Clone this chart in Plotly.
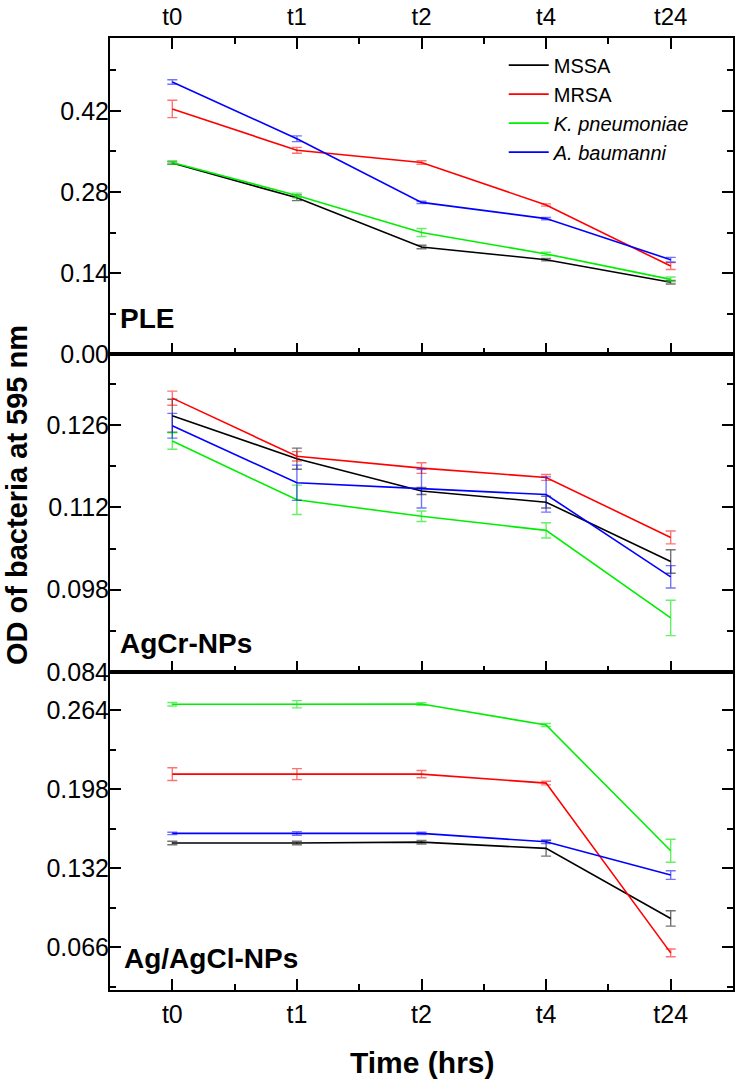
import plotly.graph_objects as go

categories = ["t0", "t1", "t2", "t4", "t24"]
series_names = ["MSSA", "MRSA", "<i>K. pneumoniae</i>", "<i>A. baumanni</i>"]
colors = ["#000000", "#ff0000", "#00ee00", "#0000ff"]
err_colors = ["rgba(0,0,0,0.55)", "rgba(255,0,0,0.55)", "rgba(0,230,0,0.6)", "rgba(0,0,255,0.55)"]

# PLE panel
ple_mssa = [0.330, 0.270, 0.185, 0.163, 0.124]
ple_mrsa = [0.4235, 0.352, 0.331, 0.2575, 0.152]
ple_kp = [0.331, 0.274, 0.210, 0.173, 0.129]
ple_ab = [0.470, 0.372, 0.262, 0.234, 0.163]
ple_mssa_err = [0.002, 0.005, 0.003, 0.002, 0.003]
ple_mrsa_err = [0.015, 0.005, 0.003, 0.002, 0.006]
ple_kp_err = [0.003, 0.004, 0.007, 0.003, 0.004]
ple_ab_err = [0.004, 0.005, 0.002, 0.002, 0.004]

# AgCr-NPs panel
agcr_mssa = [0.1276, 0.1203, 0.1148, 0.1129, 0.1028]
agcr_mrsa = [0.1306, 0.1207, 0.1187, 0.1171, 0.1069]
agcr_kp = [0.1233, 0.1133, 0.1105, 0.1081, 0.0932]
agcr_ab = [0.1259, 0.1162, 0.1152, 0.1142, 0.1002]
agcr_mssa_err = [0.0028, 0.0018, 0.0006, 0.0010, 0.0020]
agcr_mrsa_err = [0.0012, 0.0008, 0.0009, 0.0005, 0.0011]
agcr_kp_err = [0.0014, 0.0025, 0.0009, 0.0013, 0.0030]
agcr_ab_err = [0.0021, 0.0030, 0.0033, 0.0030, 0.0019]

# Ag/AgCl-NPs panel
agcl_mssa = [0.1530, 0.1530, 0.1537, 0.1485, 0.0900]
agcl_mrsa = [0.2105, 0.2105, 0.2105, 0.2030, 0.0613]
agcl_kp = [0.2688, 0.2688, 0.2690, 0.2515, 0.1465]
agcl_ab = [0.1610, 0.1610, 0.1610, 0.1540, 0.1262]
agcl_mssa_err = [0.0015, 0.0015, 0.0015, 0.0065, 0.0064]
agcl_mrsa_err = [0.0053, 0.0046, 0.0030, 0.0015, 0.0032]
agcl_kp_err = [0.0015, 0.0030, 0.0010, 0.0013, 0.0096]
agcl_ab_err = [0.0010, 0.0015, 0.0010, 0.0015, 0.0036]

panels = [
    ("x", "y", [ple_mssa, ple_mrsa, ple_kp, ple_ab],
     [ple_mssa_err, ple_mrsa_err, ple_kp_err, ple_ab_err], True),
    ("x2", "y2", [agcr_mssa, agcr_mrsa, agcr_kp, agcr_ab],
     [agcr_mssa_err, agcr_mrsa_err, agcr_kp_err, agcr_ab_err], False),
    ("x3", "y3", [agcl_mssa, agcl_mrsa, agcl_kp, agcl_ab],
     [agcl_mssa_err, agcl_mrsa_err, agcl_kp_err, agcl_ab_err], False),
]

xpos = list(range(len(categories)))
FONT = "Liberation Sans, Arial, sans-serif"

fig = go.Figure()
for xa, ya, vals, errs, show in panels:
    for i in range(4):
        fig.add_trace(go.Scatter(
            x=xpos, y=vals[i], mode="lines", name=series_names[i],
            line=dict(color=colors[i], width=1.6),
            error_y=dict(type="data", array=errs[i], visible=True,
                         color=err_colors[i], thickness=1.4, width=5),
            xaxis=xa, yaxis=ya, showlegend=show,
        ))

common_x = dict(range=[-0.5, 4.5], tickvals=xpos, ticktext=categories,
                ticks="inside", ticklen=11, tickwidth=2, tickcolor="black",
                showline=True, linewidth=2, linecolor="black",
                showgrid=False, zeroline=False, automargin=False,
                minor=dict(dtick=0.5, tick0=0, ticks="inside", ticklen=6,
                           tickwidth=2, tickcolor="black", showgrid=False),
                tickfont=dict(family=FONT, size=25, color="black"))
common_y = dict(ticks="inside", ticklen=11, tickwidth=2, tickcolor="black",
                showline=True, linewidth=2, linecolor="black", automargin=False,
                mirror="allticks", showgrid=False, zeroline=False,
                tickfont=dict(family=FONT, size=25, color="black"),
                ticklabelstandoff=-6)

fig.update_layout(
    width=735, height=1081,
    margin=dict(l=110, r=2, t=38, b=91, autoexpand=False),
    plot_bgcolor="white", paper_bgcolor="white",
    font=dict(family=FONT, color="black"),
    xaxis=dict(common_x, anchor="y", side="top", mirror="allticks", showticklabels=True,
               ticklabelstandoff=1, tickfont=dict(family=FONT, size=24, color="black")),
    xaxis2=dict(common_x, anchor="y2", side="bottom", mirror=True, showticklabels=False),
    xaxis3=dict(common_x, anchor="y3", side="bottom", mirror=True, showticklabels=True,
                ticklabelstandoff=1),
    yaxis=dict(common_y, anchor="x", domain=[0.668, 1.0], range=[0, 0.546],
               tick0=0, dtick=0.14, tickformat=".2f",
               minor=dict(dtick=0.07, tick0=0, ticks="inside", ticklen=6, tickwidth=2,
                          tickcolor="black", showgrid=False)),
    yaxis2=dict(common_y, anchor="x2", domain=[0.334, 0.668], range=[0.084, 0.1381],
                tick0=0.084, dtick=0.014, tickformat=".3f",
                minor=dict(dtick=0.007, tick0=0.084, ticks="inside", ticklen=6, tickwidth=2,
                           tickcolor="black", showgrid=False)),
    yaxis3=dict(common_y, anchor="x3", domain=[0.0, 0.334], range=[0.0303, 0.2957],
                tick0=0, dtick=0.066, tickformat=".3f",
                minor=dict(dtick=0.033, tick0=0, ticks="inside", ticklen=6, tickwidth=2,
                           tickcolor="black", showgrid=False)),
    legend=dict(x=0.632, y=0.992, xanchor="left", yanchor="top",
                font=dict(family=FONT, size=20, color="black"),
                bgcolor="rgba(0,0,0,0)", tracegroupgap=0, itemwidth=40),
    annotations=[
        dict(text="<b>PLE</b>", xref="paper", yref="paper", x=0.013, y=(990 - 319) / 952,
             xanchor="left", yanchor="middle", showarrow=False,
             font=dict(family=FONT, size=28, color="black")),
        dict(text="<b>AgCr-NPs</b>", xref="paper", yref="paper", x=0.013, y=(990 - 643) / 952,
             xanchor="left", yanchor="middle", showarrow=False,
             font=dict(family=FONT, size=28, color="black")),
        dict(text="<b>Ag/AgCl-NPs</b>", xref="paper", yref="paper", x=0.02, y=(990 - 958) / 952,
             xanchor="left", yanchor="middle", showarrow=False,
             font=dict(family=FONT, size=28, color="black")),
        dict(text="<b>Time (hrs)</b>", xref="paper", yref="paper", x=0.5, y=(990 - 1062) / 952,
             xanchor="center", yanchor="middle", showarrow=False,
             font=dict(family=FONT, size=30, color="black")),
        dict(text="<b>OD of bacteria at 595 nm</b>", xref="paper", yref="paper",
             x=-(110 - 17) / 623, y=(990 - 495) / 952, textangle=-90,
             xanchor="center", yanchor="middle", showarrow=False,
             font=dict(family=FONT, size=29, color="black")),
    ],
)

fig.write_html("out.html")
